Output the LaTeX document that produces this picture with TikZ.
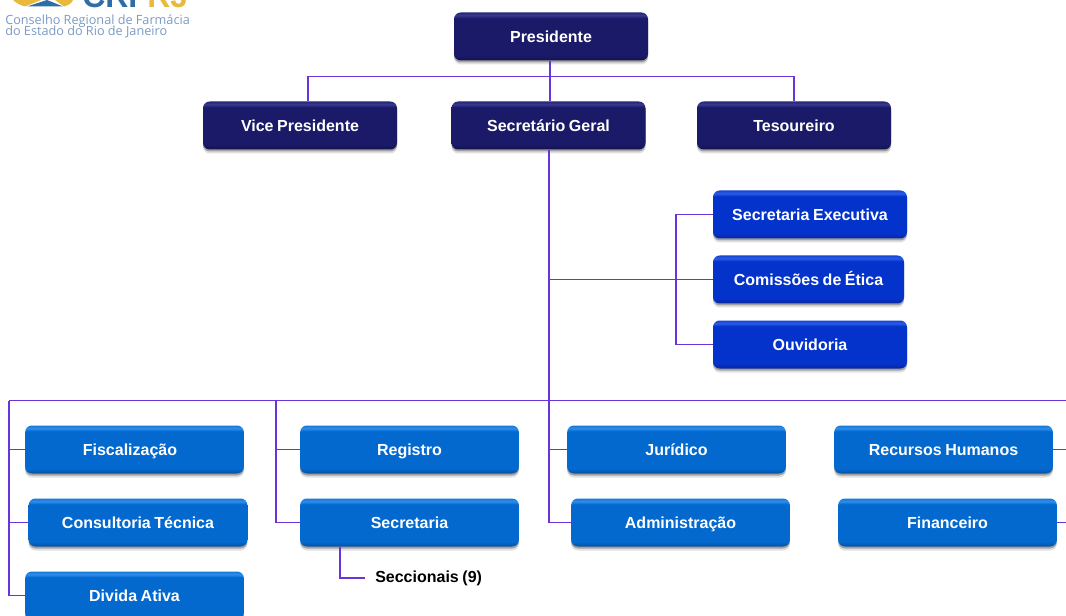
\documentclass[tikz,border=0pt]{standalone}
\usepackage{fontspec}
\setmainfont{Liberation Sans}[WordSpace=0.8]
\newfontfamily\logofont{Open Sans}
\usetikzlibrary{shadows}
\definecolor{linkc}{HTML}{6A35D8}
\definecolor{logoblue}{HTML}{7A9AC4}
\definecolor{logodeep}{HTML}{2F6DA8}
\definecolor{logogold}{HTML}{E8B93C}
\definecolor{navydark}{HTML}{12124A}
\definecolor{navymain}{HTML}{1A1A68}
\definecolor{navylite}{HTML}{38388E}
\definecolor{royaldark}{HTML}{04259A}
\definecolor{royalmain}{HTML}{0433CC}
\definecolor{royallite}{HTML}{2C5CE6}
\definecolor{skydark}{HTML}{05509E}
\definecolor{skymain}{HTML}{0369CF}
\definecolor{skylite}{HTML}{2E8EEA}
\pgfdeclareverticalshading{navyshade}{100bp}{
  color(0bp)=(navydark); color(25bp)=(navydark); color(30bp)=(navymain);
  color(69bp)=(navymain); color(72bp)=(navylite); color(75bp)=(navymain!60!navylite);
  color(100bp)=(navymain!60!navylite)}
\pgfdeclareverticalshading{royalshade}{100bp}{
  color(0bp)=(royaldark); color(25bp)=(royaldark); color(30bp)=(royalmain);
  color(69bp)=(royalmain); color(72bp)=(royallite); color(75bp)=(royalmain!60!royallite);
  color(100bp)=(royalmain!60!royallite)}
\pgfdeclareverticalshading{skyshade}{100bp}{
  color(0bp)=(skydark); color(25bp)=(skydark); color(30bp)=(skymain);
  color(69bp)=(skymain); color(72bp)=(skylite); color(75bp)=(skymain!60!skylite);
  color(100bp)=(skymain!60!skylite)}
\tikzset{
  x=0.75pt,y=-0.75pt,
  orgbox/.style={rectangle,rounded corners=5pt,inner sep=0pt,minimum height=36pt,
    text=white,text height=10pt,text depth=1pt,
    font=\fontsize{12}{14}\selectfont\bfseries,
    drop shadow={shadow xshift=0pt,shadow yshift=-3pt,opacity=.12,fill=black},
    drop shadow={shadow xshift=0pt,shadow yshift=-1.5pt,opacity=.28,fill=black}},
  navybox/.style={orgbox,shading=navyshade,minimum width=145.5pt},
  royalbox/.style={orgbox,shading=royalshade,minimum width=145.5pt},
  royalnarrow/.style={orgbox,shading=royalshade,minimum width=143.25pt},
  skybox/.style={orgbox,shading=skyshade,minimum width=164pt},
  link/.style={draw=linkc,line width=1.25pt},
  plainlabel/.style={inner sep=0pt,font=\fontsize{12}{14}\selectfont\bfseries,text=black},
  logotext/.style={inner sep=0pt,anchor=base west,text=logoblue,font=\logofont\fontsize{9.5}{10}\selectfont}
}
\begin{document}
\begin{tikzpicture}
\useasboundingbox (0,0) rectangle (1066,616);
\clip (0,0) rectangle (1066,616);
% logo
\fill[logogold] (13,0) -- (41,0) -- (25,6.5) .. controls (20,5) and (16,3) .. (13,0) -- cycle;
\fill[logogold] (55,0) -- (73,0) .. controls (72,3) and (69,5) .. (64,6.5) -- cycle;
\fill[logodeep] (47,0) -- (27,6.5) -- (63,6.5) -- cycle;
\node[inner sep=0pt,anchor=base west,text=logodeep,font=\fontsize{24}{24}\selectfont\bfseries] (logoa) at (82,8) {CRF};
\node[inner sep=0pt,anchor=base west,text=logogold,font=\fontsize{24}{24}\selectfont\bfseries] (logob) at (147,8) {RJ};
\node[logotext] (logoc) at (5,25) {Conselho Regional de Farmácia};
\node[logotext] (logod) at (5,36) {do Estado do Rio de Janeiro};
% boxes
\node[navybox] (pres) at (551,36.5) {Presidente};
\node[navybox] (vice) at (300,125.5) {Vice Presidente};
\node[navybox] (secg) at (548.5,125.5) {Secretário Geral};
\node[navybox] (tes) at (794,125.5) {Tesoureiro};
\node[royalbox] (exec) at (810,214.5) {Secretaria Executiva};
\node[royalnarrow] (etica) at (808.5,279.5) {Comissões de Ética};
\node[royalbox] (ouv) at (810,344.5) {Ouvidoria};
\node[skybox] (fisc) at (134.5,449.5) {Fiscalização\hspace*{6.75pt}};
\node[skybox] (cons) at (138,522.5) {Consultoria Técnica};
\node[skybox] (div) at (134.5,595.5) {Divida Ativa};
\node[skybox] (reg) at (409.5,449.5) {Registro};
\node[skybox] (sec) at (409.5,522.5) {Secretaria};
\node[skybox] (jur) at (676.5,449.5) {Jurídico};
\node[skybox] (adm) at (680.5,522.5) {Administração};
\node[skybox] (rh) at (943.5,449.5) {Recursos Humanos};
\node[skybox] (fin) at (947.5,522.5) {Financeiro};
\node[plainlabel,anchor=west] (secc) at (375,578) {Seccionais (9)};
% free ends and junctions
\coordinate (topbus) at (550,76.5);
\coordinate (busl) at (9,400.5);
\coordinate (busm) at (276,400.5);
\coordinate (busc) at (549,400.5);
\coordinate (busr) at (1066,400.5);
\coordinate (outr) at (1066,0);
% connectors
\draw[link] (pres.south -| topbus) -- (secg.north -| topbus);
\draw[link] (vice.north -| 308,0) |- (topbus) -| (tes.north -| 794,0);
\draw[link] (secg.south -| busc) -- (busc |- adm.west) -- (adm.west);
\draw[link] (busc |- etica.west) -- (etica.west);
\draw[link] (exec.west) -| (676,280) |- (ouv.west);
\draw[link] (busl) -- (busr);
\draw[link] (busl) |- (div.west);
\draw[link] (busl |- fisc.west) -- (fisc.west);
\draw[link] (busl |- cons.west) -- (cons.west);
\draw[link] (busm) |- (sec.west);
\draw[link] (busm |- reg.west) -- (reg.west);
\draw[link] (busc |- jur.west) -- (jur.west);
\draw[link] (rh.east) -- (outr |- rh.east);
\draw[link] (fin.east) -- (outr |- fin.east);
\draw[link] (sec.south -| 340,0) |- (365,578);
\end{tikzpicture}
\end{document}
